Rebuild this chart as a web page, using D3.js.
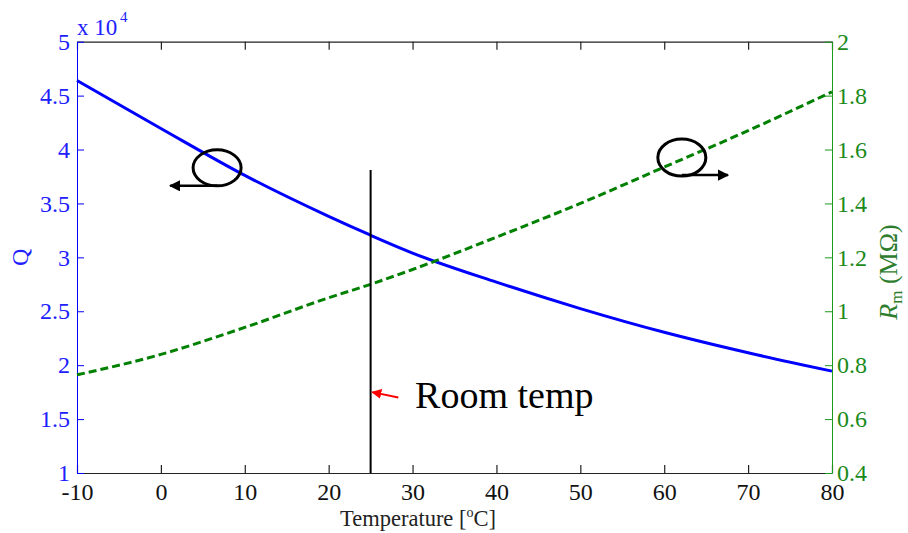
<!DOCTYPE html>
<html><head><meta charset="utf-8">
<script src="https://cdn.jsdelivr.net/npm/d3@7"></script>
<style>body{margin:0;background:#fff}svg{display:block}text{font-family:'Liberation Serif','Times New Roman',serif}</style>
</head><body>
<svg id="c" width="908" height="533"></svg>
<script>
// ---- data ----
const temps = [-10, 0, 10, 20, 25, 30, 40, 50, 60, 70, 80];
const qValues = [46400, 41950, 37600, 33800, 32050, 30400, 27700, 25250, 23050, 21150, 19450];
const rmValues = [0.764, 0.840, 0.940, 1.050, 1.100, 1.155, 1.275, 1.400, 1.535, 1.670, 1.814];
const xTicks = [-10, 0, 10, 20, 30, 40, 50, 60, 70, 80];
const qTicks = [10000, 15000, 20000, 25000, 30000, 35000, 40000, 45000, 50000];
const rmTicks = [0.4, 0.6, 0.8, 1.0, 1.2, 1.4, 1.6, 1.8, 2.0];
const roomTemp = 25;
const roomLineTopQ = 38100;
// annotation positions in data units
const leftLoop = {t: 6.7, q: 38300, toT: 1.1};
const rightLoop = {t: 62.1, rm: 1.570, toT: 67.6};
const roomLabel = {t: 30.3, rm: 0.690};
const roomArrow = {fromT: 28.3, fromRm: 0.680, toT: 25.2, toRm: 0.700};

const svg = d3.select("#c");
const L = 77, R = 832, T = 41.7, B = 473;
const x = d3.scaleLinear().domain([-10, 80]).range([L, R]);
const yQ = d3.scaleLinear().domain([10000, 50000]).range([B, T]);
const yR = d3.scaleLinear().domain([0.4, 2.0]).range([B, T]);
const font = "'Liberation Serif','Times New Roman',serif";
const blue = "#0000ff", green = "#008000";

function styleText(g, size, color) {
  g.attr("font-family", null).attr("font-size", null);
  g.selectAll("text").style("font-family", font).style("font-size", size + "px").attr("fill", color);
}

// axes
const gB = svg.append("g").attr("transform", `translate(0,${B})`)
  .call(d3.axisBottom(x).tickValues(xTicks).tickSizeInner(-8).tickSizeOuter(0).tickPadding(10).tickFormat(d => String(d)));
const gT = svg.append("g").attr("transform", `translate(0,${T})`)
  .call(d3.axisTop(x).tickValues(xTicks).tickSizeInner(-8).tickSizeOuter(0).tickFormat(""));
const gL = svg.append("g").attr("transform", `translate(${L},0)`)
  .call(d3.axisLeft(yQ).tickValues(qTicks).tickSizeInner(-7).tickSizeOuter(0).tickPadding(7).tickFormat(d => String(d / 1e4)));
const gR = svg.append("g").attr("transform", `translate(${R},0)`)
  .call(d3.axisRight(yR).tickValues(rmTicks).tickSizeInner(-7).tickSizeOuter(0).tickPadding(5).tickFormat(d => String(+d.toFixed(1))));

[gB, gT].forEach(g => { g.selectAll("path,line").attr("stroke", "#222").attr("stroke-width", 1.2); });
styleText(gB, 24, "#111");
gL.selectAll("path,line").attr("stroke", blue).attr("stroke-width", 1);
styleText(gL, 24, "#2020ff");
gR.selectAll("path,line").attr("stroke", "#1a9a1a").attr("stroke-width", 1);
styleText(gR, 24, "#1a8a1a");
svg.selectAll(".domain").attr("fill", "none");

// curves
const qLine = d3.line().x((d, i) => x(temps[i])).y(d => yQ(d)).curve(d3.curveMonotoneX);
const rLine = d3.line().x((d, i) => x(temps[i])).y(d => yR(d)).curve(d3.curveMonotoneX);
svg.append("path").attr("d", qLine(qValues)).attr("fill", "none").attr("stroke", blue).attr("stroke-width", 3);
svg.append("path").attr("d", rLine(rmValues)).attr("fill", "none").attr("stroke", green).attr("stroke-width", 3).attr("stroke-dasharray", "8,4");

// room temp line
svg.append("line").attr("x1", x(roomTemp)).attr("x2", x(roomTemp)).attr("y1", yQ(roomLineTopQ)).attr("y2", B)
  .attr("stroke", "#000").attr("stroke-width", 2);

// markers
const defs = svg.append("defs");
defs.append("marker").attr("id", "ah").attr("viewBox", "0 0 10 10").attr("refX", 9).attr("refY", 5)
  .attr("markerWidth", 4.5).attr("markerHeight", 4.5).attr("orient", "auto")
  .append("path").attr("d", "M0,0L10,5L0,10z").attr("fill", "#000");
defs.append("marker").attr("id", "ahr").attr("viewBox", "0 0 10 10").attr("refX", 9).attr("refY", 5)
  .attr("markerWidth", 5).attr("markerHeight", 5).attr("orient", "auto")
  .append("path").attr("d", "M0,0L10,5L0,10z").attr("fill", "#ff0000");

// left loop
{
  const cx = x(leftLoop.t), cy = yQ(leftLoop.q);
  svg.append("ellipse").attr("cx", cx).attr("cy", cy).attr("rx", 24).attr("ry", 18)
    .attr("fill", "none").attr("stroke", "#000").attr("stroke-width", 3);
  svg.append("line").attr("x1", cx).attr("y1", cy + 18).attr("x2", x(leftLoop.toT)).attr("y2", cy + 18)
    .attr("stroke", "#000").attr("stroke-width", 2.5).attr("marker-end", "url(#ah)");
}
// right loop
{
  const cx = x(rightLoop.t), cy = yR(rightLoop.rm);
  svg.append("ellipse").attr("cx", cx).attr("cy", cy).attr("rx", 24).attr("ry", 18.5)
    .attr("fill", "none").attr("stroke", "#000").attr("stroke-width", 3);
  svg.append("line").attr("x1", cx).attr("y1", cy + 17.5).attr("x2", x(rightLoop.toT)).attr("y2", cy + 17.5)
    .attr("stroke", "#000").attr("stroke-width", 2.5).attr("marker-end", "url(#ah)");
}
// room temp arrow & label
svg.append("line").attr("x1", x(roomArrow.fromT)).attr("y1", yR(roomArrow.fromRm))
  .attr("x2", x(roomArrow.toT)).attr("y2", yR(roomArrow.toRm))
  .attr("stroke", "#ff0000").attr("stroke-width", 2).attr("marker-end", "url(#ahr)");
svg.append("text").attr("x", x(roomLabel.t)).attr("y", yR(roomLabel.rm) + 13)
  .style("font-size", "38px").attr("fill", "#000").text("Room temp");

// exponent label
svg.append("text").attr("x", 77).attr("y", 35).style("font-size", "23px").attr("fill", "#2020ff").text("x 10");
svg.append("text").attr("x", 120).attr("y", 22).style("font-size", "15px").attr("fill", "#2020ff").text("4");

// axis titles
const xl = svg.append("text").attr("x", 418).attr("y", 526).attr("text-anchor", "middle")
  .style("font-size", "22.5px").attr("fill", "#222");
xl.append("tspan").text("Temperature [");
xl.append("tspan").style("font-size", "14px").attr("dy", -9).text("o");
xl.append("tspan").attr("dy", 9).text("C]");

svg.append("text").attr("transform", `translate(28,${(T + B) / 2}) rotate(-90)`).attr("text-anchor", "middle")
  .style("font-size", "24px").attr("fill", "#2020ff").text("Q");

const yl = svg.append("text").attr("transform", `translate(897,272) rotate(-90)`).attr("text-anchor", "middle")
  .style("font-size", "26px").attr("fill", "#2e7d2e");
yl.append("tspan").style("font-style", "italic").text("R");
yl.append("tspan").style("font-size", "17px").attr("dy", 5).text("m");
yl.append("tspan").attr("dy", -5).text(" (MΩ)");
</script>
</body></html>
